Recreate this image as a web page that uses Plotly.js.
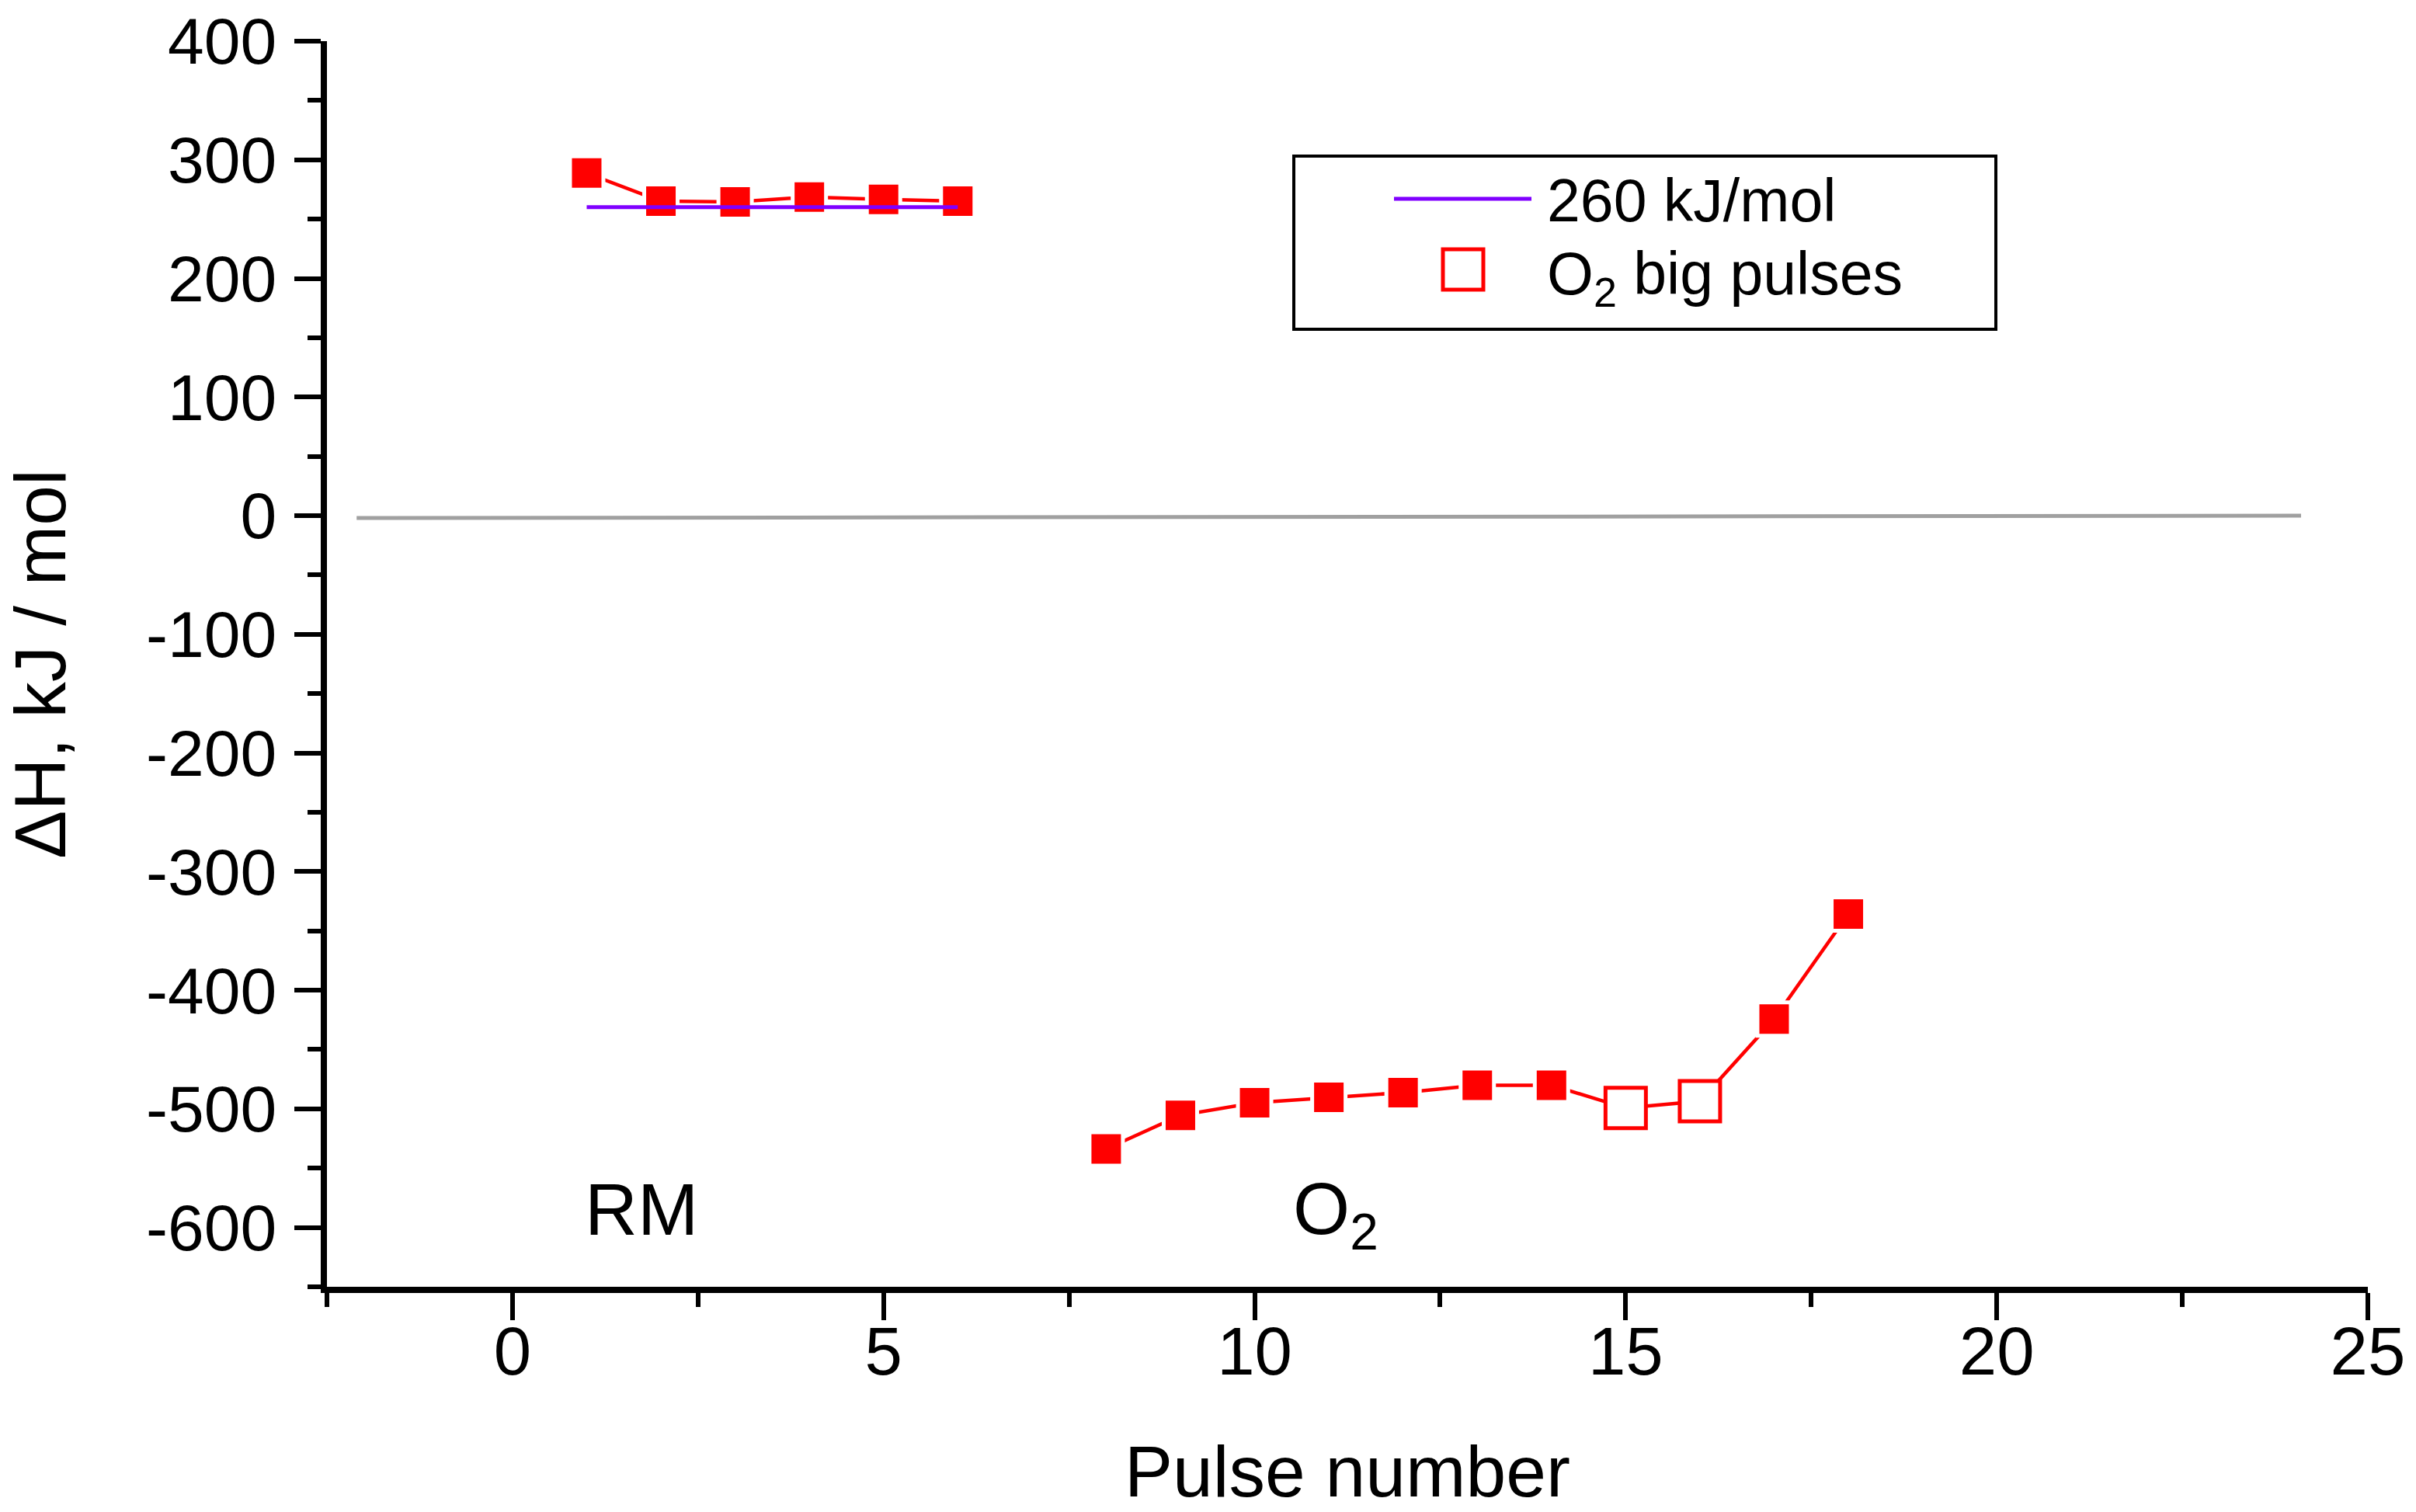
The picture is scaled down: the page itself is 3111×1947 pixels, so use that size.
<!DOCTYPE html>
<html>
<head>
<meta charset="utf-8">
<script src="https://cdn.plot.ly/plotly-3.0.1.min.js"></script>
<style>
  html, body { margin: 0; padding: 0; background: #ffffff; }
  #chart { width: 3111px; height: 1947px; }
</style>
</head>
<body>
<div id="chart"></div>
<script>
// ---- data ----
const rmX = [1, 2, 3, 4, 5, 6];
const rmY = [288.8, 265.1, 264.5, 268.6, 266.6, 265.1];

const o2X = [8, 9, 10, 11, 12, 13, 14, 15, 16, 17, 18];
const o2Y = [-533.8, -505.5, -494.8, -490.2, -486.3, -480.1, -480.1, -499.3, -493.6, -424.3, -335.8];
const o2Big = [false, false, false, false, false, false, false, true, true, false, false];

const refX = [1, 6];
const refY = [260, 260];

const baseX = [-2.1, 24.1];
const baseY = [-2, 0];

const xTickVals = [0, 5, 10, 15, 20, 25];
const xTickText = ['0', '5', '10', '15', '20', '25'];
const yTickVals = [400, 300, 200, 100, 0, -100, -200, -300, -400, -500, -600];
const yTickText = ['400', '300', '200', '100', '0', '-100', '-200', '-300', '-400', '-500', '-600'];

const legendLabels = ['260 kJ/mol', 'O<sub>2</sub> big pulses'];
const regionLabels = ['RM', 'O<sub>2</sub>'];

// ---- styling ----
const FONT = 'Liberation Sans, Arial, sans-serif';
const RED = '#FF0000';
const VIOLET = '#8000FF';
const GRAY = '#A0A0A0';

const traces = [
  { x: baseX, y: baseY, mode: 'lines', line: { color: GRAY, width: 5 }, showlegend: false, hoverinfo: 'skip' },
  { x: rmX, y: rmY, mode: 'lines', line: { color: RED, width: 4.5 }, showlegend: false },
  { x: rmX, y: rmY, mode: 'markers', marker: { symbol: 'square', size: 48, color: '#ffffff', opacity: 1 }, showlegend: false },
  { x: rmX, y: rmY, mode: 'markers', marker: { symbol: 'square', size: 38, color: RED, opacity: 1 }, showlegend: false },
  { x: o2X, y: o2Y, mode: 'lines', line: { color: RED, width: 4.5 }, showlegend: false },
  { x: o2X, y: o2Y, mode: 'markers', marker: { symbol: 'square', size: 48, color: '#ffffff', opacity: 1 }, showlegend: false },
  { x: o2X, y: o2Y, mode: 'markers', showlegend: false,
    marker: {
      symbol: 'square',
      opacity: 1,
      size: o2Big.map(b => b ? 52 : 38),
      color: o2Big.map(b => b ? '#ffffff' : RED),
      line: { color: RED, width: o2Big.map(b => b ? 5 : 0) }
    } },
  { x: refX, y: refY, mode: 'lines', line: { color: VIOLET, width: 5 }, showlegend: false }
];

// plot area geometry for paper-coordinate legend box
const L = 421, R = 62, T = 53, B = 290, W = 3111, H = 1947;
const pw = W - L - R, ph = H - T - B;
const px = v => (v - L) / pw;
const py = v => (H - B - v) / ph;

const layout = {
  width: W, height: H,
  margin: { l: L, r: R, t: T, b: B, pad: 0 },
  paper_bgcolor: '#ffffff', plot_bgcolor: '#ffffff',
  font: { family: FONT, color: '#000000', size: 84 },
  showlegend: false,
  xaxis: {
    range: [-2.5, 25], showgrid: false, zeroline: false,
    showline: true, linecolor: '#000', linewidth: 8,
    ticks: 'outside', ticklen: 35, tickwidth: 6, tickcolor: '#000',
    tickmode: 'array', tickvals: xTickVals, ticktext: xTickText,
    tickfont: { family: FONT, size: 87, color: '#000' },
    ticklabelstandoff: -34,
    minor: { ticks: 'outside', ticklen: 18, tickwidth: 6, tickcolor: '#000', dtick: 2.5, tick0: 0, showgrid: false },
    title: { text: 'Pulse number', font: { family: FONT, size: 93, color: '#000' }, standoff: 115 }
  },
  yaxis: {
    range: [-650, 400], showgrid: false, zeroline: false,
    showline: true, linecolor: '#000', linewidth: 8,
    ticks: 'outside', ticklen: 34, tickwidth: 6, tickcolor: '#000',
    tickmode: 'array', tickvals: yTickVals, ticktext: yTickText,
    tickfont: { family: FONT, size: 84, color: '#000' },
    ticklabelstandoff: 6,
    minor: { ticks: 'outside', ticklen: 17, tickwidth: 6, tickcolor: '#000', dtick: 50, tick0: 0, showgrid: false },
    title: { text: '\u0394H, kJ / mol', font: { family: FONT, size: 93, color: '#000' }, standoff: 82 }
  },
  shapes: [
    { type: 'rect', xref: 'paper', yref: 'paper', x0: px(1666), x1: px(2570), y0: py(424), y1: py(201),
      line: { color: '#000', width: 4 }, fillcolor: '#ffffff', layer: 'above' },
    { type: 'line', xref: 'paper', yref: 'paper', x0: px(1795), x1: px(1972), y0: py(256), y1: py(256),
      line: { color: VIOLET, width: 5 }, layer: 'above' },
    { type: 'rect', xref: 'paper', yref: 'paper', x0: px(1858), x1: px(1910), y0: py(373), y1: py(321),
      line: { color: RED, width: 5 }, fillcolor: '#ffffff', layer: 'above' }
  ],
  annotations: [
    { xref: 'paper', yref: 'paper', x: px(1990), y: py(258), xanchor: 'left', yanchor: 'middle', showarrow: false,
      text: legendLabels[0], font: { family: FONT, size: 77, color: '#000' } },
    { xref: 'paper', yref: 'paper', x: px(1990), y: py(358), xanchor: 'left', yanchor: 'middle', showarrow: false,
      text: legendLabels[1], font: { family: FONT, size: 77, color: '#000' } },
    { xref: 'x', yref: 'y', x: 0.95, y: -585, xanchor: 'left', yanchor: 'middle', showarrow: false,
      text: regionLabels[0], font: { family: FONT, size: 94, color: '#000' } },
    { xref: 'x', yref: 'y', x: 10.5, y: -589, xanchor: 'left', yanchor: 'middle', showarrow: false,
      text: regionLabels[1], font: { family: FONT, size: 94, color: '#000' } }
  ]
};

Plotly.newPlot('chart', traces, layout, { staticPlot: true, displayModeBar: false });
</script>
</body>
</html>
